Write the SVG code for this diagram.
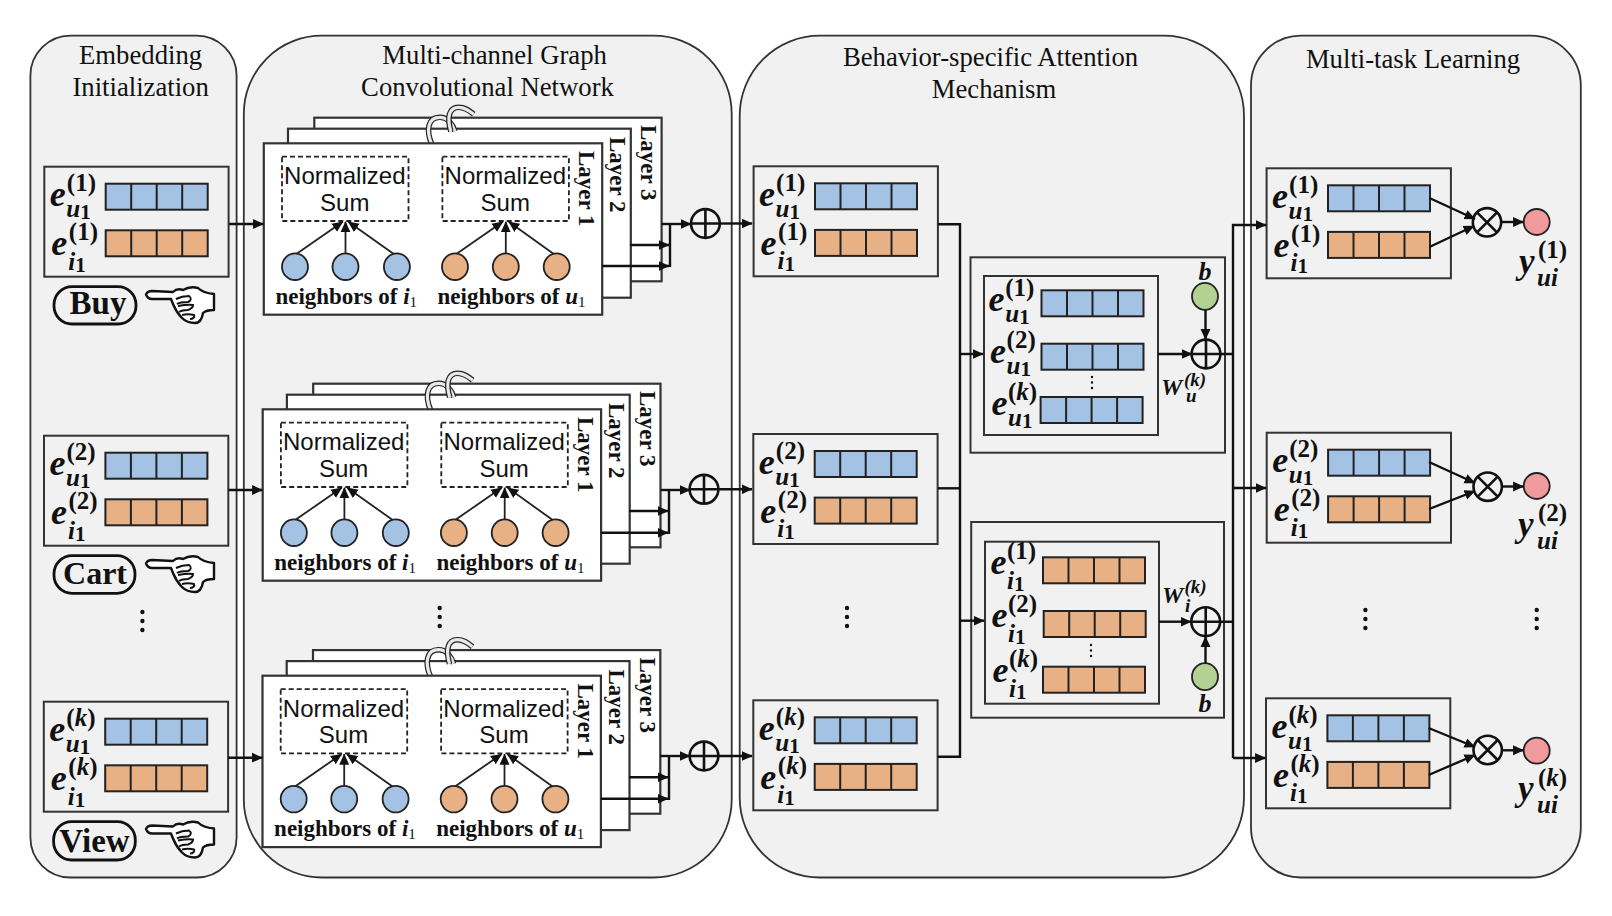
<svg xmlns="http://www.w3.org/2000/svg" xmlns:xlink="http://www.w3.org/1999/xlink" width="1612" height="916" viewBox="0 0 1612 916">
<style>
text{font-family:"Liberation Serif","Times New Roman",serif;fill:#111}
.panel{fill:#f1f1f1;stroke:#333;stroke-width:1.8}
.box{fill:none;stroke:#333;stroke-width:2}
.layer{fill:#fff;stroke:#333;stroke-width:2.2}
.dash{fill:#fff;stroke:#222;stroke-width:1.8;stroke-dasharray:5 3}
.t{font-size:26.7px;text-anchor:middle}
.n{font-family:"Liberation Sans",Arial,sans-serif;font-size:24px;text-anchor:middle}
.nb{font-size:23px;font-weight:bold}
.nb .i{font-style:italic}
.nb .d{font-size:15px;font-weight:normal}
.ly{font-size:23px;font-weight:bold}
.e{font-size:36px;font-weight:bold;font-style:italic}
.sup{font-size:25px;font-weight:bold;font-style:normal}
.k{font-style:italic}
.sub{font-size:25px;font-weight:bold;font-style:italic}
.dg{font-size:21px;font-weight:bold;font-style:normal}
.w{font-size:24px;font-weight:bold;font-style:italic}
.w2{font-size:19px;font-weight:bold;font-style:italic}
.y{font-size:35px;font-weight:bold;font-style:italic}
.b{font-size:26px;font-weight:bold;font-style:italic;text-anchor:middle}
.beh{font-size:33px;font-weight:bold;text-anchor:middle}
.pill{fill:none;stroke:#111;stroke-width:2.8}
.c{fill:none;stroke:#111;stroke-width:2.4}
.a{fill:none;stroke:#111;stroke-width:2.4;marker-end:url(#ah)}
.as{fill:none;stroke:#222;stroke-width:1.8;marker-end:url(#ah)}
.blue{fill:#a4c2e4}
.orange{fill:#e8b085}
.cell{stroke:#222;stroke-width:2}
.nd{stroke:#222;stroke-width:1.8}
.op{fill:none;stroke:#111;stroke-width:2.6}
.dots{stroke:#111;stroke-width:4.4;stroke-linecap:round;stroke-dasharray:0 9;fill:none}
.sdots{stroke:#111;stroke-width:2.4;stroke-linecap:round;stroke-dasharray:0 5.5;fill:none}
</style>
<defs>
<marker id="ah" markerUnits="userSpaceOnUse" viewBox="0 0 10 10" refX="9.5" refY="5" markerWidth="11" markerHeight="11" orient="auto"><path d="M0,0.5 L10,5 L0,9.5 Z" fill="#111"/></marker>
<g id="bar-b"><rect class="blue cell" width="102" height="26"/><path class="cell" d="M25.5,0V26M51,0V26M76.5,0V26"/></g>
<g id="bar-o"><rect class="orange cell" width="102" height="26"/><path class="cell" d="M25.5,0V26M51,0V26M76.5,0V26"/></g>
<g id="ebox"><rect class="box" width="184.3" height="110"/><use xlink:href="#bar-b" x="61.4" y="17"/><use xlink:href="#bar-o" x="61.4" y="63.6"/></g>
<g id="plus"><circle class="op" r="14.4"/><path class="op" d="M-14.4,0H14.4M0,-14.4V14.4"/></g>
<g id="times"><circle class="op" r="14.2"/><path class="op" d="M-10,-10L10,10M-10,10L10,-10"/></g>
<g id="hand"><path d="M0,7.5 C1,5 3,4 6,4 L27,5 C30,2 34,2 37,3 C42,0 48,0 52,1 C55,4 58,6 68,7 L68,23 C63,23 59,24 57,26 C56,32 54,36 49,36 C43,36 39,34 36,31 C32,27 29,22 27,17 L25,12 L6,12 C3,12 1,10 0,7.5 Z" fill="#fff" stroke="#111" stroke-width="2.4" stroke-linejoin="round"/><path d="M30,12 C34,10 38,9 43,9 C46,11 45,14 42,15 C38,15 34,15 31,17 M32,19 C37,18 42,17 47,18 C47,21 45,22 42,23 C39,23 36,23 33,25 M36,28 C40,27 44,27 48,28 C49,30 47,32 44,32" fill="none" stroke="#111" stroke-width="2"/></g>
<g id="stack-shapes">
<rect class="layer" x="50.5" y="-25.6" width="347.3" height="163.6"/>
<rect class="layer" x="24.2" y="-14.6" width="342.8" height="169"/>
<path d="M168,1 C162,-13 164,-26 176,-26 C184,-26 189,-19 191,-12" fill="none" stroke="#222" stroke-width="5.6"/>
<path d="M168,1 C162,-13 164,-26 176,-26 C184,-26 189,-19 191,-12" fill="none" stroke="#e8e8e8" stroke-width="3.2"/>
<path d="M187,-12 C183,-26 185,-36 195,-36 C201,-36 205,-33 210,-29" fill="none" stroke="#222" stroke-width="5.6"/>
<path d="M187,-12 C183,-26 185,-36 195,-36 C201,-36 205,-33 210,-29" fill="none" stroke="#e8e8e8" stroke-width="3.2"/>
<rect class="layer" width="338.4" height="171.4"/>
<rect class="dash" x="18.2" y="13.4" width="126.5" height="64.3"/>
<rect class="dash" x="178.6" y="13.4" width="126.5" height="64.3"/>
<path class="as" d="M32.5,110.7L79,78.5"/><path class="as" d="M81.7,110V78.5"/><path class="as" d="M130,110.7L84.5,78.5"/>
<path class="as" d="M192.5,110.7L239,78.5"/><path class="as" d="M242,110V78.5"/><path class="as" d="M290,110.7L245,78.5"/>
<g class="nd"><ellipse class="blue" cx="31.2" cy="123.4" rx="13" ry="13.3"/><ellipse class="blue" cx="81.7" cy="123.4" rx="13" ry="13.3"/><ellipse class="blue" cx="133.1" cy="123.4" rx="13" ry="13.3"/><ellipse class="orange" cx="191.2" cy="123.4" rx="13" ry="13.3"/><ellipse class="orange" cx="242" cy="123.4" rx="13" ry="13.3"/><ellipse class="orange" cx="292.9" cy="123.4" rx="13" ry="13.3"/></g>
</g>
</defs>

<g id="panels">
<rect id="panel-embedding" class="panel" x="30.4" y="35.7" width="206.2" height="841.8" rx="40"/>
<rect id="panel-gcn" class="panel" x="243.8" y="35.7" width="487.9" height="841.8" rx="78"/>
<rect id="panel-attention" class="panel" x="739.7" y="35.7" width="504.3" height="841.8" rx="80"/>
<rect id="panel-mtl" class="panel" x="1251" y="35.7" width="329.8" height="841.8" rx="50"/>
</g>

<g id="titles">
<text class="t" x="140.6" y="64">Embedding</text>
<text class="t" x="140.6" y="96">Initialization</text>
<text class="t" x="494.6" y="64">Multi-channel Graph</text>
<text class="t" x="487.5" y="96">Convolutional Network</text>
<text class="t" x="990.5" y="66">Behavior-specific Attention</text>
<text class="t" x="994" y="98">Mechanism</text>
<text class="t" x="1413" y="68">Multi-task Learning</text>
</g>

<g id="embed-buy" transform="translate(44.3,166.7)"><use xlink:href="#ebox"/>
<text class="e" x="5.5" y="39.5">e<tspan class="sup" x="22.5" y="24.5">(1)</tspan><tspan class="sub" x="22" y="50.5">u</tspan><tspan class="dg" x="36" y="52.5">1</tspan></text>
<text class="e" x="7" y="88.5">e<tspan class="sup" x="24.5" y="73.5">(1)</tspan><tspan class="sub" x="24" y="103">i</tspan><tspan class="dg" x="31" y="105">1</tspan></text></g>
<g id="embed-cart" transform="translate(44,435.7)"><use xlink:href="#ebox"/>
<text class="e" x="5.5" y="39.5">e<tspan class="sup" x="22.5" y="24.5">(2)</tspan><tspan class="sub" x="22" y="50.5">u</tspan><tspan class="dg" x="36" y="52.5">1</tspan></text>
<text class="e" x="7" y="88.5">e<tspan class="sup" x="24.5" y="73.5">(2)</tspan><tspan class="sub" x="24" y="103">i</tspan><tspan class="dg" x="31" y="105">1</tspan></text></g>
<g id="embed-view" transform="translate(43.8,701.7)"><use xlink:href="#ebox"/>
<text class="e" x="5.5" y="39.5">e<tspan class="sup" x="22.5" y="24.5">(<tspan class="k">k</tspan>)</tspan><tspan class="sub" x="22" y="50.5">u</tspan><tspan class="dg" x="36" y="52.5">1</tspan></text>
<text class="e" x="7" y="88.5">e<tspan class="sup" x="24.5" y="73.5">(<tspan class="k">k</tspan>)</tspan><tspan class="sub" x="24" y="103">i</tspan><tspan class="dg" x="31" y="105">1</tspan></text></g>

<g id="tag-buy"><rect class="pill" x="54" y="286.7" width="82" height="37.3" rx="18"/><text class="beh" x="98" y="314">Buy</text><use xlink:href="#hand" x="146" y="287"/></g>
<g id="tag-cart"><rect class="pill" x="54" y="555.7" width="81" height="37.6" rx="18"/><text class="beh" style="font-size:32px" x="95" y="584">Cart</text><use xlink:href="#hand" x="146" y="556"/></g>
<g id="tag-view"><rect class="pill" x="53.6" y="821.7" width="81.7" height="38.3" rx="18"/><text class="beh" x="94.5" y="851.7">View</text><use xlink:href="#hand" x="146" y="821.5"/></g>
<path id="dots-embedding" class="dots" d="M142.4,612V634"/>
<path id="dots-gcn" class="dots" d="M439.7,608V630"/>

<g id="stack-buy" transform="translate(263.8,143.3)"><use xlink:href="#stack-shapes"/>
<text class="n" x="81" y="41">Normalized</text><text class="n" x="81" y="67.7">Sum</text>
<text class="n" x="241.5" y="41">Normalized</text><text class="n" x="241.5" y="67.7">Sum</text>
<text class="nb" x="11.6" y="160.7">neighbors of <tspan class="i">i</tspan><tspan class="d" dy="3">1</tspan></text>
<text class="nb" x="173.7" y="160.7">neighbors of <tspan class="i">u</tspan><tspan class="d" dy="3">1</tspan></text>
<text class="ly" transform="translate(315.2,7.7) rotate(90)">Layer 1</text>
<text class="ly" transform="translate(346.2,-6.3) rotate(90)">Layer 2</text>
<text class="ly" transform="translate(377.2,-18.3) rotate(90)">Layer 3</text></g>
<g id="stack-cart" transform="translate(262.7,409.3)"><use xlink:href="#stack-shapes"/>
<text class="n" x="81" y="41">Normalized</text><text class="n" x="81" y="67.7">Sum</text>
<text class="n" x="241.5" y="41">Normalized</text><text class="n" x="241.5" y="67.7">Sum</text>
<text class="nb" x="11.6" y="160.7">neighbors of <tspan class="i">i</tspan><tspan class="d" dy="3">1</tspan></text>
<text class="nb" x="173.7" y="160.7">neighbors of <tspan class="i">u</tspan><tspan class="d" dy="3">1</tspan></text>
<text class="ly" transform="translate(315.2,7.7) rotate(90)">Layer 1</text>
<text class="ly" transform="translate(346.2,-6.3) rotate(90)">Layer 2</text>
<text class="ly" transform="translate(377.2,-18.3) rotate(90)">Layer 3</text></g>
<g id="stack-view" transform="translate(262.5,675.7)"><use xlink:href="#stack-shapes"/>
<text class="n" x="81" y="41">Normalized</text><text class="n" x="81" y="67.7">Sum</text>
<text class="n" x="241.5" y="41">Normalized</text><text class="n" x="241.5" y="67.7">Sum</text>
<text class="nb" x="11.6" y="160.7">neighbors of <tspan class="i">i</tspan><tspan class="d" dy="3">1</tspan></text>
<text class="nb" x="173.7" y="160.7">neighbors of <tspan class="i">u</tspan><tspan class="d" dy="3">1</tspan></text>
<text class="ly" transform="translate(315.2,7.7) rotate(90)">Layer 1</text>
<text class="ly" transform="translate(346.2,-6.3) rotate(90)">Layer 2</text>
<text class="ly" transform="translate(377.2,-18.3) rotate(90)">Layer 3</text></g>

<g id="agg-1"><use xlink:href="#plus" x="705.4" y="223.5"/></g>
<g id="agg-2"><use xlink:href="#plus" x="704" y="489.3"/></g>
<g id="agg-3"><use xlink:href="#plus" x="704" y="756"/></g>

<g id="behavior-1" transform="translate(753.6,166.3)"><use xlink:href="#ebox"/>
<text class="e" x="5.5" y="39.5">e<tspan class="sup" x="22.5" y="24.5">(1)</tspan><tspan class="sub" x="22" y="50.5">u</tspan><tspan class="dg" x="36" y="52.5">1</tspan></text>
<text class="e" x="7" y="88.5">e<tspan class="sup" x="24.5" y="73.5">(1)</tspan><tspan class="sub" x="24" y="103">i</tspan><tspan class="dg" x="31" y="105">1</tspan></text></g>
<g id="behavior-2" transform="translate(753.3,434)"><use xlink:href="#ebox"/>
<text class="e" x="5.5" y="39.5">e<tspan class="sup" x="22.5" y="24.5">(2)</tspan><tspan class="sub" x="22" y="50.5">u</tspan><tspan class="dg" x="36" y="52.5">1</tspan></text>
<text class="e" x="7" y="88.5">e<tspan class="sup" x="24.5" y="73.5">(2)</tspan><tspan class="sub" x="24" y="103">i</tspan><tspan class="dg" x="31" y="105">1</tspan></text></g>
<g id="behavior-k" transform="translate(753.3,700.3)"><use xlink:href="#ebox"/>
<text class="e" x="5.5" y="39.5">e<tspan class="sup" x="22.5" y="24.5">(<tspan class="k">k</tspan>)</tspan><tspan class="sub" x="22" y="50.5">u</tspan><tspan class="dg" x="36" y="52.5">1</tspan></text>
<text class="e" x="7" y="88.5">e<tspan class="sup" x="24.5" y="73.5">(<tspan class="k">k</tspan>)</tspan><tspan class="sub" x="24" y="103">i</tspan><tspan class="dg" x="31" y="105">1</tspan></text></g>
<path id="dots-attention" class="dots" d="M847,608V630"/>

<g id="attention-user">
<rect class="box" x="970.5" y="257.3" width="254.5" height="195.4"/>
<rect class="box" x="984" y="276" width="174" height="159"/>
<use xlink:href="#bar-b" x="1041.5" y="290.3"/><use xlink:href="#bar-b" x="1041.5" y="343.7"/><use xlink:href="#bar-b" x="1040.6" y="397"/>
<path class="sdots" d="M1092,377V393"/>
<text class="e" x="988.5" y="310.7">e<tspan class="sup" x="1005.3" y="296">(1)</tspan><tspan class="sub" x="1005.3" y="321.7">u</tspan><tspan class="dg" x="1019.3" y="323.7">1</tspan></text>
<text class="e" x="990" y="362.7">e<tspan class="sup" x="1006.6" y="348">(2)</tspan><tspan class="sub" x="1006.6" y="373.7">u</tspan><tspan class="dg" x="1020.6" y="375.7">1</tspan></text>
<text class="e" x="991.5" y="415">e<tspan class="sup" x="1008" y="400">(<tspan class="k">k</tspan>)</tspan><tspan class="sub" x="1008" y="426">u</tspan><tspan class="dg" x="1022" y="428">1</tspan></text>
<ellipse cx="1205" cy="296.3" rx="13" ry="13.5" fill="#b2d193" stroke="#222" stroke-width="1.8"/>
<text class="b" x="1205" y="280">b</text>
<use xlink:href="#plus" x="1206" y="354"/>
<text class="w" x="1161" y="395">W<tspan class="w2" x="1184" y="386">(<tspan>k</tspan>)</tspan><tspan class="w2" x="1186" y="402">u</tspan></text>
</g>

<g id="attention-item">
<rect class="box" x="971.2" y="522" width="252.8" height="195.7"/>
<rect class="box" x="985" y="541.7" width="174" height="162"/>
<use xlink:href="#bar-o" x="1043" y="557.3"/><use xlink:href="#bar-o" x="1043.7" y="611"/><use xlink:href="#bar-o" x="1043" y="666.7"/>
<path class="sdots" d="M1091,645V661"/>
<text class="e" x="990.5" y="574">e<tspan class="sup" x="1007" y="559">(1)</tspan><tspan class="sub" x="1007" y="588.5">i</tspan><tspan class="dg" x="1014" y="590.5">1</tspan></text>
<text class="e" x="991.5" y="627">e<tspan class="sup" x="1008" y="612">(2)</tspan><tspan class="sub" x="1008" y="641.5">i</tspan><tspan class="dg" x="1015" y="643.5">1</tspan></text>
<text class="e" x="992.5" y="682">e<tspan class="sup" x="1009" y="667">(<tspan class="k">k</tspan>)</tspan><tspan class="sub" x="1009" y="696.5">i</tspan><tspan class="dg" x="1016" y="698.5">1</tspan></text>
<ellipse cx="1205" cy="676.7" rx="13" ry="13.5" fill="#b2d193" stroke="#222" stroke-width="1.8"/>
<text class="b" x="1205" y="711.7">b</text>
<use xlink:href="#plus" x="1205.7" y="621.7"/>
<text class="w" x="1162" y="603">W<tspan class="w2" x="1184.5" y="593">(<tspan>k</tspan>)</tspan><tspan class="w2" x="1185" y="611.7">i</tspan></text>
</g>

<g id="task-1" transform="translate(1266.6,168.3)"><use xlink:href="#ebox"/>
<text class="e" x="5.5" y="39.5">e<tspan class="sup" x="22.5" y="24.5">(1)</tspan><tspan class="sub" x="22" y="50.5">u</tspan><tspan class="dg" x="36" y="52.5">1</tspan></text>
<text class="e" x="7" y="88.5">e<tspan class="sup" x="24.5" y="73.5">(1)</tspan><tspan class="sub" x="24" y="103">i</tspan><tspan class="dg" x="31" y="105">1</tspan></text></g>
<g id="task-2" transform="translate(1266.7,432.7)"><use xlink:href="#ebox"/>
<text class="e" x="5.5" y="39.5">e<tspan class="sup" x="22.5" y="24.5">(2)</tspan><tspan class="sub" x="22" y="50.5">u</tspan><tspan class="dg" x="36" y="52.5">1</tspan></text>
<text class="e" x="7" y="88.5">e<tspan class="sup" x="24.5" y="73.5">(2)</tspan><tspan class="sub" x="24" y="103">i</tspan><tspan class="dg" x="31" y="105">1</tspan></text></g>
<g id="task-k" transform="translate(1266,698.3)"><use xlink:href="#ebox"/>
<text class="e" x="5.5" y="39.5">e<tspan class="sup" x="22.5" y="24.5">(<tspan class="k">k</tspan>)</tspan><tspan class="sub" x="22" y="50.5">u</tspan><tspan class="dg" x="36" y="52.5">1</tspan></text>
<text class="e" x="7" y="88.5">e<tspan class="sup" x="24.5" y="73.5">(<tspan class="k">k</tspan>)</tspan><tspan class="sub" x="24" y="103">i</tspan><tspan class="dg" x="31" y="105">1</tspan></text></g>

<g id="pred-1"><use xlink:href="#times" x="1487" y="222.3"/><circle cx="1536.7" cy="222" r="13" fill="#f09a9e" stroke="#222" stroke-width="1.8"/>
<text class="y" x="1519" y="272.7">y<tspan class="sup" x="1538" y="258">(1)</tspan><tspan class="sub" x="1537" y="286">ui</tspan></text></g>
<g id="pred-2"><use xlink:href="#times" x="1487.7" y="486.7"/><circle cx="1536.7" cy="486" r="13" fill="#f09a9e" stroke="#222" stroke-width="1.8"/>
<text class="y" x="1518" y="535.7">y<tspan class="sup" x="1538" y="521">(2)</tspan><tspan class="sub" x="1537" y="549">ui</tspan></text></g>
<g id="pred-k"><use xlink:href="#times" x="1487.7" y="750"/><circle cx="1536.7" cy="750.7" r="13" fill="#f09a9e" stroke="#222" stroke-width="1.8"/>
<text class="y" x="1518" y="800">y<tspan class="sup" x="1538" y="785.5">(<tspan class="k">k</tspan>)</tspan><tspan class="sub" x="1537" y="813">ui</tspan></text></g>
<path id="dots-task" class="dots" d="M1365.4,610V632"/>
<path id="dots-pred" class="dots" d="M1536.7,610V632"/>

<g id="connectors">
<path class="a" d="M229,224H263.5"/><path class="a" d="M228.7,490H262.5"/><path class="a" d="M228,757.7H262.3"/>
<path class="a" d="M661.6,224H691"/><path class="a" d="M630,245H669"/><path class="a" d="M602,266H669"/><path class="c" d="M670,224V267"/>
<path class="a" d="M660.7,490H690"/><path class="a" d="M629.3,511H668"/><path class="a" d="M601.3,532.7H668"/><path class="c" d="M669,490V534"/>
<path class="a" d="M660,756H690"/><path class="a" d="M629,777.3H668"/><path class="a" d="M601,798.7H668"/><path class="c" d="M669,756V800"/>
<path class="a" d="M720,223.5H752"/><path class="a" d="M718.4,489.3H752"/><path class="a" d="M718.4,756H752"/>
<path class="c" d="M938,224.3H960V756.7H937.5"/><path class="c" d="M938,488.3H960"/>
<path class="a" d="M960,354H983"/><path class="a" d="M960,620.7H984"/>
<path class="a" d="M1158,354H1192"/><path class="a" d="M1205.5,310V339.5"/>
<path class="a" d="M1159,621.7H1191"/><path class="a" d="M1205.5,663V636.5"/>
<path class="c" d="M1220.4,354H1233M1220,621.7H1233"/>
<path class="a" d="M1233,758V225H1266"/><path class="a" d="M1233,488H1266"/><path class="a" d="M1233,758H1265.5"/>
<path class="a" d="M1429.4,198L1475,219"/><path class="a" d="M1429.4,247L1474,226"/>
<path class="a" d="M1429,462L1475,483"/><path class="a" d="M1429,509L1475,491"/>
<path class="a" d="M1428.6,728L1475,747"/><path class="a" d="M1428.6,775L1475,755"/>
<path class="a" d="M1501.5,222H1523.5"/><path class="a" d="M1502,486.5H1523.5"/><path class="a" d="M1502,750.3H1523.5"/>
</g>
</svg>
